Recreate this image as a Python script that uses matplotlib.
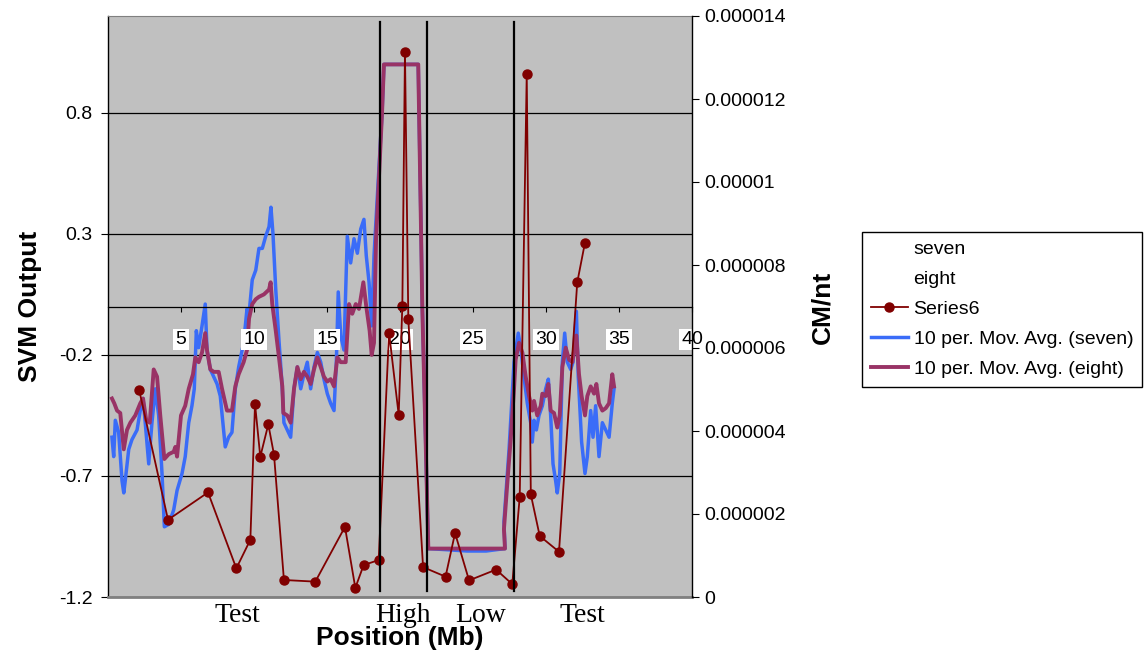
import matplotlib
matplotlib.use("Agg")
import matplotlib.pyplot as plt
from matplotlib.lines import Line2D

plt.rcParams["font.family"] = ["Liberation Sans", "DejaVu Sans"]

# 10 per. moving average of "seven" (position Mb, SVM output)
seven_x = [0.27, 0.39, 0.50, 0.73, 0.96, 1.08, 1.18, 1.42, 1.64, 1.99, 2.21, 2.40, 2.55, 2.79,
           3.01, 3.24, 3.47, 3.70, 3.86, 4.16, 4.50, 4.73, 5.07, 5.29, 5.53, 5.75, 5.91, 6.05,
           6.21, 6.44, 6.66, 6.78, 7.01, 7.24, 7.47, 7.69, 8.03, 8.26, 8.49, 8.72, 8.95, 9.29,
           9.52, 9.66, 9.88, 10.12, 10.34, 10.57, 10.80, 11.03, 11.16, 11.30, 11.49, 11.71,
           11.94, 12.05, 12.28, 12.51, 12.74, 12.97, 13.20, 13.42, 13.65, 13.88, 14.11, 14.34,
           14.57, 14.79, 15.02, 15.25, 15.48, 15.64, 15.77, 15.94, 16.16, 16.39, 16.62, 16.85,
           17.08, 17.31, 17.53, 17.69, 17.88, 18.06, 18.22, 18.77, 18.90, 21.25, 21.53, 21.94,
           24.6, 25.9, 27.19, 27.12, 27.47, 27.81, 28.10, 28.27, 28.49, 28.72, 28.95, 29.06,
           29.18, 29.34, 29.52, 29.75, 29.98, 30.16, 30.32, 30.48, 30.66, 30.77, 30.94, 31.12,
           31.28, 31.46, 31.69, 31.85, 31.99, 32.08, 32.21, 32.44, 32.67, 32.83, 33.06, 33.22,
           33.40, 33.63, 33.86, 34.09, 34.32, 34.54, 34.66]
seven_y = [-0.54, -0.62, -0.47, -0.52, -0.72, -0.77, -0.72, -0.59, -0.55, -0.51, -0.43, -0.38,
           -0.48, -0.65, -0.48, -0.34, -0.45, -0.69, -0.91, -0.90, -0.84, -0.76, -0.69, -0.62,
           -0.48, -0.41, -0.34, -0.10, -0.17, -0.08, 0.01, -0.18, -0.26, -0.29, -0.32, -0.37,
           -0.58, -0.54, -0.52, -0.34, -0.25, -0.15, -0.01, -0.03, 0.11, 0.15, 0.24, 0.24, 0.29,
           0.33, 0.41, 0.30, 0.07, -0.14, -0.34, -0.48, -0.51, -0.54, -0.34, -0.25, -0.34, -0.28,
           -0.23, -0.34, -0.25, -0.19, -0.23, -0.30, -0.36, -0.40, -0.43, -0.23, 0.06, -0.12,
           -0.18, 0.29, 0.18, 0.28, 0.22, 0.32, 0.36, 0.21, 0.10, -0.08, 0.21, 0.80, 1.00, 1.00,
           0.00, -1.00, -1.01, -1.01, -1.00, -0.89, -0.59, -0.23, -0.11, -0.17, -0.29, -0.40,
           -0.48, -0.56, -0.47, -0.51, -0.45, -0.41, -0.34, -0.30, -0.45, -0.65, -0.72, -0.77,
           -0.69, -0.23, -0.11, -0.23, -0.26, -0.23, -0.10, -0.02, -0.29, -0.56, -0.69, -0.62,
           -0.43, -0.54, -0.41, -0.62, -0.48, -0.51, -0.54, -0.40, -0.34]

# 10 per. moving average of "eight"
eight_x = [0.27, 0.43, 0.62, 0.84, 1.08, 1.30, 1.53, 1.87, 2.21, 2.40, 2.62, 2.86, 3.13, 3.36,
           3.58, 3.86, 4.16, 4.50, 4.61, 4.73, 5.00, 5.29, 5.53, 5.82, 5.98, 6.21, 6.44, 6.66,
           6.78, 7.01, 7.24, 7.58, 7.81, 8.15, 8.49, 8.72, 8.95, 9.29, 9.52, 9.66, 9.88, 10.12,
           10.34, 10.68, 11.03, 11.14, 11.25, 11.49, 11.71, 11.94, 12.01, 12.28, 12.51, 12.74,
           12.97, 13.20, 13.42, 13.65, 13.88, 14.11, 14.34, 14.57, 14.79, 15.02, 15.25, 15.48,
           15.71, 15.94, 16.28, 16.51, 16.73, 16.97, 17.19, 17.49, 17.69, 17.92, 18.06, 18.22,
           18.36, 18.77, 18.90, 21.25, 21.53, 21.94, 27.19, 27.12, 27.35, 27.58, 27.81, 27.92,
           28.15, 28.38, 28.61, 28.84, 29.06, 29.18, 29.40, 29.64, 29.75, 29.98, 30.16, 30.32,
           30.55, 30.77, 30.94, 31.12, 31.35, 31.58, 31.80, 32.08, 32.26, 32.44, 32.67, 32.83,
           33.06, 33.29, 33.45, 33.63, 33.86, 34.09, 34.32, 34.54, 34.66]
eight_y = [-0.38, -0.40, -0.43, -0.44, -0.59, -0.51, -0.48, -0.45, -0.40, -0.38, -0.47, -0.48,
           -0.26, -0.29, -0.45, -0.63, -0.61, -0.60, -0.58, -0.62, -0.45, -0.41, -0.34, -0.28,
           -0.21, -0.23, -0.19, -0.11, -0.18, -0.26, -0.27, -0.27, -0.34, -0.43, -0.43, -0.33,
           -0.28, -0.23, -0.18, -0.05, 0.01, 0.03, 0.04, 0.05, 0.07, 0.10, 0.01, -0.10, -0.21,
           -0.33, -0.44, -0.45, -0.48, -0.34, -0.25, -0.30, -0.27, -0.29, -0.32, -0.26, -0.21,
           -0.25, -0.29, -0.31, -0.30, -0.33, -0.21, -0.23, -0.23, 0.01, -0.03, 0.01, -0.01,
           0.10, 0.00, -0.10, -0.20, -0.15, 0.28, 0.80, 1.00, 1.00, -0.01, -1.00, -1.00, -0.92,
           -0.73, -0.55, -0.34, -0.22, -0.15, -0.19, -0.29, -0.37, -0.43, -0.39, -0.45, -0.41,
           -0.36, -0.37, -0.32, -0.43, -0.44, -0.50, -0.45, -0.25, -0.17, -0.22, -0.23, -0.12,
           -0.28, -0.37, -0.45, -0.37, -0.33, -0.36, -0.32, -0.40, -0.43, -0.42, -0.40, -0.28,
           -0.33]

# Series6 (CM/nt, right axis)
s6_x = [2.14, 4.11, 6.85, 8.79, 9.75, 10.07, 10.43, 10.98, 11.37, 12.05, 14.20, 16.23, 16.94,
        17.51, 18.54, 19.25, 19.91, 20.16, 20.34, 20.57, 21.58, 23.12, 23.77, 24.73, 26.58,
        27.69, 28.20, 28.68, 28.96, 29.57, 30.89, 32.14, 32.67]
s6_y = [4.98e-6, 1.86e-6, 2.52e-6, 0.69e-6, 1.38e-6, 4.65e-6, 3.38e-6, 4.16e-6, 3.43e-6,
        0.41e-6, 0.37e-6, 1.69e-6, 0.22e-6, 0.77e-6, 0.89e-6, 6.37e-6, 4.39e-6, 7.02e-6,
        13.14e-6, 6.69e-6, 0.72e-6, 0.49e-6, 1.54e-6, 0.40e-6, 0.66e-6, 0.31e-6, 2.41e-6,
        12.6e-6, 2.47e-6, 1.47e-6, 1.09e-6, 7.58e-6, 8.54e-6]

boundaries = [18.63, 21.85, 27.81]
regions = ["Test", "High", "Low", "Test"]
region_x = [8.84, 20.2, 25.55, 32.47]

left_ticks = [-1.2, -0.7, -0.2, 0.3, 0.8]
right_ticks = [0, 2e-6, 4e-6, 6e-6, 8e-6, 1e-5, 1.2e-5, 1.4e-5]
right_labels = ["0", "0.000002", "0.000004", "0.000006", "0.000008",
                "0.00001", "0.000012", "0.000014"]
x_ticks = [5, 10, 15, 20, 25, 30, 35, 40]

W, H = 1147, 655
fig = plt.figure(figsize=(W / 100, H / 100), dpi=100)
ax = fig.add_axes([108 / W, (H - 597) / H, (692 - 108) / W, (597 - 16) / H])
ax.set_facecolor("#C0C0C0")

ax.plot(seven_x, seven_y, color="#3A6CF8", lw=2.5, zorder=3)
ax.plot(eight_x, eight_y, color="#993366", lw=2.8, zorder=4)
ax.set_xlim(0, 40)
ax.set_ylim(-1.2, 1.2)
ax.set_yticks(left_ticks)
ax.set_yticklabels([f"{t:g}" for t in left_ticks])
ax.yaxis.grid(True, color="black", lw=0.9)
ax.set_axisbelow(True)
ax.set_xticks(x_ticks)
ax.tick_params(axis="x", bottom=False, labelbottom=False)
ax.tick_params(axis="y", direction="out", length=5, pad=6, labelsize=14)
ax.spines["bottom"].set_color("#808080")
ax.spines["bottom"].set_linewidth(2)
ax.spines["top"].set_color("#808080")
ax.spines["right"].set_visible(False)
ax.spines["left"].set_linewidth(1.0)

# secondary axis carries Series6 and the x axis drawn at SVM output = 0
ax2 = ax.twinx()
ax2.set_ylim(0, 1.4e-5)
ax2.plot(s6_x, s6_y, color="#800000", lw=1.3, marker="o", ms=6.5, zorder=2)
for b in boundaries:
    ax2.axvline(b, ymin=0.01, ymax=0.99, color="black", lw=1.6, zorder=2.2)
ax2.set_yticks(right_ticks)
ax2.set_yticklabels(right_labels)
ax2.tick_params(axis="y", direction="out", length=5, pad=4, labelsize=14)
ax2.xaxis.set_visible(True)
ax2.spines["bottom"].set_position(("axes", 0.5))
ax2.spines["bottom"].set_linewidth(0.9)
ax2.spines["top"].set_visible(False)
ax2.spines["left"].set_visible(False)
ax2.spines["right"].set_linewidth(1.0)
ax2.tick_params(axis="x", direction="out", length=3.5, pad=14, labelsize=14,
                bottom=True, labelbottom=True)
for lab in ax2.get_xticklabels():
    lab.set_bbox(dict(facecolor="white", edgecolor="none", pad=1.5))

for name, xv in zip(regions, region_x):
    ax.text(xv, -0.031, name, transform=ax.get_xaxis_transform(), ha="center", va="center",
            fontsize=20, family="Liberation Serif")

fig.text(400 / W, 1 - 638 / H, "Position (Mb)", ha="center", va="center",
         fontsize=19, fontweight="bold")
fig.text(30 / W, 1 - 306 / H, "SVM Output", rotation=90, ha="center", va="center",
         fontsize=19, fontweight="bold")
fig.text(822 / W, 1 - 307 / H, "CM/nt", rotation=90, ha="center", va="center",
         fontsize=19, fontweight="bold")

handles = [
    Line2D([], [], color="none", label="seven"),
    Line2D([], [], color="none", label="eight"),
    Line2D([], [], color="#800000", lw=1.3, marker="o", ms=6.5, label="Series6"),
    Line2D([], [], color="#3A6CF8", lw=2.5, label="10 per. Mov. Avg. (seven)"),
    Line2D([], [], color="#993366", lw=2.8, label="10 per. Mov. Avg. (eight)"),
]
fig.legend(handles=handles, loc="upper left", bbox_to_anchor=(862 / W, 1 - 232 / H),
           frameon=True, fancybox=False, edgecolor="black", framealpha=1, fontsize=14,
           handlelength=1.9, handletextpad=0.3, borderaxespad=0, borderpad=0.45,
           labelspacing=0.63)

fig.savefig("out.png", dpi=100)
